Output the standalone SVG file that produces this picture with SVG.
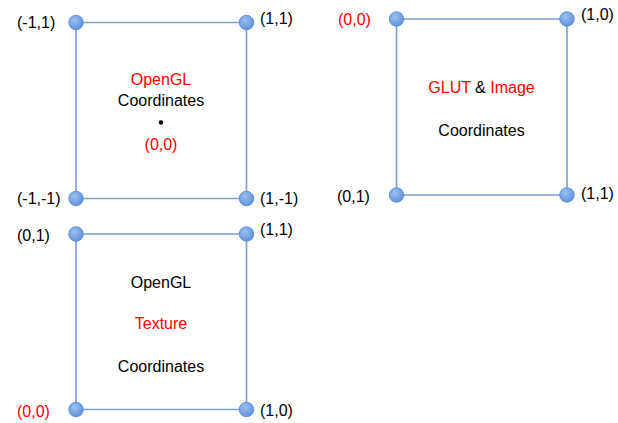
<svg xmlns="http://www.w3.org/2000/svg" width="618" height="423" viewBox="0 0 618 423">
<defs>
<radialGradient id="g" cx="0.4" cy="0.35" r="0.7">
<stop offset="0" stop-color="#9dc0f0"/>
<stop offset="1" stop-color="#5a8fdb"/>
</radialGradient>
<style>
.e{stroke:#7b9fcf;stroke-width:1.6;fill:none}
.c{fill:url(#g);stroke:#5a8ad0;stroke-width:0.8}
text{font-family:"Liberation Sans",Arial,sans-serif;font-size:16px;fill:#000}
.r{fill:#ff0000}
.m{text-anchor:middle}
</style>
</defs>
<rect width="618" height="423" fill="#fff"/>
<g id="connectors">
<path class="e" d="M76,22.5H246.5V198.5H76Z"/>
<path class="e" d="M396.5,19H567V195H396.5Z"/>
<path class="e" d="M76,234H246.5V409.5H76Z"/>
</g>
<g id="opengl-coords">
<g id="n1-tl"><circle class="c" cx="76" cy="22.5" r="7.3"/><text x="17" y="28">(-1,1)</text></g>
<g id="n1-tr"><circle class="c" cx="246.5" cy="22.5" r="7.3"/><text x="260" y="24">(1,1)</text></g>
<g id="n1-bl"><circle class="c" cx="76" cy="198.5" r="7.3"/><text x="17" y="204">(-1,-1)</text></g>
<g id="n1-br"><circle class="c" cx="246.5" cy="198.5" r="7.3"/><text x="260" y="204">(1,-1)</text></g>
<g id="n1-label">
<text class="m r" x="161" y="85">OpenGL</text>
<text class="m" x="161" y="106">Coordinates</text>
<circle cx="161" cy="122.5" r="2.2" fill="#000"/>
<text class="m r" x="161" y="150">(0,0)</text>
</g>
</g>
<g id="glut-coords">
<g id="n2-tl"><circle class="c" cx="396.5" cy="19" r="7.3"/><text class="r" x="338" y="25">(0,0)</text></g>
<g id="n2-tr"><circle class="c" cx="567" cy="19" r="7.3"/><text x="581" y="19.5">(1,0)</text></g>
<g id="n2-bl"><circle class="c" cx="396.5" cy="195" r="7.3"/><text x="337" y="202">(0,1)</text></g>
<g id="n2-br"><circle class="c" cx="567" cy="195" r="7.3"/><text x="581" y="199">(1,1)</text></g>
<g id="n2-label">
<text class="m" x="481.5" y="93"><tspan class="r">GLUT</tspan> &amp; <tspan class="r">Image</tspan></text>
<text class="m" x="481.5" y="136">Coordinates</text>
</g>
</g>
<g id="texture-coords">
<g id="n3-tl"><circle class="c" cx="76" cy="234" r="7.3"/><text x="17" y="241">(0,1)</text></g>
<g id="n3-tr"><circle class="c" cx="246.5" cy="234" r="7.3"/><text x="260" y="235">(1,1)</text></g>
<g id="n3-bl"><circle class="c" cx="76" cy="409.5" r="7.3"/><text class="r" x="17" y="417">(0,0)</text></g>
<g id="n3-br"><circle class="c" cx="246.5" cy="409.5" r="7.3"/><text x="260" y="416">(1,0)</text></g>
<g id="n3-label">
<text class="m" x="161" y="287.5">OpenGL</text>
<text class="m r" x="161" y="329">Texture</text>
<text class="m" x="161" y="372">Coordinates</text>
</g>
</g>
</svg>
